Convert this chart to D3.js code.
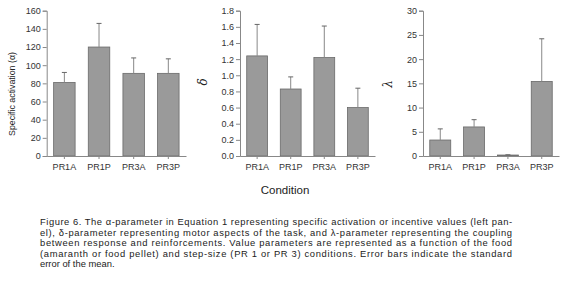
<!DOCTYPE html>
<html>
<head>
<meta charset="utf-8">
<script src="https://cdn.jsdelivr.net/npm/d3@7"></script>
<style>
  body { margin: 0; background: #fff; }
  svg { display: block; }
  .axis path, .axis line { stroke: #888; }
  .axis text { fill: #333; font-family: "Liberation Sans", Arial, sans-serif; font-size: 9px; }
</style>
</head>
<body>
<svg id="chart" width="567" height="290"></svg>
<script>
// conditions on the x axis
var conditions = ["PR1A", "PR1P", "PR3A", "PR3P"];

// alpha parameter (specific activation)
var alphaMean = [81, 120, 91, 91];
var alphaErr = [92, 146, 108, 107];
var alphaTicks = [0, 20, 40, 60, 80, 100, 120, 140, 160];

// delta parameter
var deltaMean = [1.24, 0.83, 1.22, 0.60];
var deltaErr = [1.63, 0.98, 1.61, 0.84];
var deltaTicks = [0, 0.2, 0.4, 0.6, 0.8, 1.0, 1.2, 1.4, 1.6, 1.8];

// lambda parameter
var lambdaMean = [3.3, 6.0, 0.2, 15.4];
var lambdaErr = [5.6, 7.5, 0.25, 24.2];
var lambdaTicks = [0, 5, 10, 15, 20, 25, 30];

var captionLines = [
    "Figure 6. The \u03b1-parameter in Equation 1 representing specific activation or incentive values (left pan-",
    "el), \u03b4-parameter representing motor aspects of the task, and \u03bb-parameter representing the coupling",
    "between response and reinforcements. Value parameters are represented as a function of the food",
    "(amaranth or food pellet) and step-size (PR 1 or PR 3) conditions. Error bars indicate the standard",
    "error of the mean."
];

var svg = d3.select("#chart");
var yTop = 10.7, yBottom = 156;

var panels = [
    { mean: alphaMean, err: alphaErr, ticks: alphaTicks, max: 160, fmt: d3.format("d"),
      x0: 46.7, x1: 186, label: "Specific activation (\u03b1)", lx: 15, ly: 94, italic: false },
    { mean: deltaMean, err: deltaErr, ticks: deltaTicks, max: 1.8, fmt: d3.format(".1f"),
      x0: 240, x1: 375, label: "\u03b4", lx: 207, ly: 82, italic: true },
    { mean: lambdaMean, err: lambdaErr, ticks: lambdaTicks, max: 30, fmt: d3.format("d"),
      x0: 423, x1: 559, label: "\u03bb", lx: 392, ly: 84, italic: true }
];

panels.forEach(function (p) {
    var x = d3.scaleBand().domain(conditions).range([p.x0, p.x1])
        .paddingInner(0.38).paddingOuter(0.2);
    var y = d3.scaleLinear().domain([0, p.max]).range([yBottom, yTop]);

    var g = svg.append("g");

    // bars
    g.selectAll("rect.bar")
        .data(conditions)
        .enter()
        .append("rect")
        .attr("class", "bar")
        .attr("x", function (d) { return x(d); })
        .attr("width", x.bandwidth())
        .attr("y", function (d, i) { return y(p.mean[i]); })
        .attr("height", function (d, i) { return y(0) - y(p.mean[i]); })
        .attr("fill", "#9a9a9a")
        .attr("stroke", "#6a6a6a")
        .attr("stroke-width", 0.8);

    // error bars (upper only)
    var eb = g.selectAll("g.err")
        .data(conditions)
        .enter()
        .append("g")
        .attr("class", "err");
    eb.append("line")
        .attr("x1", function (d) { return x(d) + x.bandwidth() / 2; })
        .attr("x2", function (d) { return x(d) + x.bandwidth() / 2; })
        .attr("y1", function (d, i) { return y(p.mean[i]); })
        .attr("y2", function (d, i) { return y(p.err[i]); })
        .attr("stroke", "#888")
        .attr("stroke-width", 1);
    eb.append("line")
        .attr("x1", function (d) { return x(d) + x.bandwidth() / 2 - 2.5; })
        .attr("x2", function (d) { return x(d) + x.bandwidth() / 2 + 2.5; })
        .attr("y1", function (d, i) { return y(p.err[i]); })
        .attr("y2", function (d, i) { return y(p.err[i]); })
        .attr("stroke", "#666")
        .attr("stroke-width", 1);

    // axes
    g.append("g")
        .attr("class", "axis")
        .attr("transform", "translate(" + p.x0 + ",0)")
        .call(d3.axisLeft(y).tickValues(p.ticks).tickFormat(p.fmt).tickSize(4).tickPadding(2));

    g.append("g")
        .attr("class", "axis")
        .attr("transform", "translate(0," + yBottom + ")")
        .call(d3.axisBottom(x).tickSize(3).tickSizeOuter(0).tickPadding(5));

    // y label
    g.append("text")
        .attr("transform", "translate(" + p.lx + "," + p.ly + ") rotate(-90)")
        .attr("text-anchor", "middle")
        .attr("font-family", p.italic ? "'DejaVu Serif', serif" : "'Liberation Sans', Arial, sans-serif")
        .attr("font-style", p.italic ? "italic" : "normal")
        .attr("font-size", p.italic ? "12px" : "8.8px")
        .attr("fill", "#222")
        .text(p.label);
});

// shared x label
svg.append("text")
    .attr("x", 285)
    .attr("y", 194)
    .attr("text-anchor", "middle")
    .attr("font-family", "'Liberation Sans', Arial, sans-serif")
    .attr("font-size", "11.5px")
    .attr("fill", "#222")
    .text("Condition");

// caption
svg.selectAll("text.caption")
    .data(captionLines)
    .enter()
    .append("text")
    .attr("class", "caption")
    .attr("x", 40)
    .attr("y", function (d, i) { return 225 + i * 10.6; })
    .attr("font-family", "'Liberation Sans', Arial, sans-serif")
    .attr("font-size", "9.4px")
    .attr("fill", "#222")
    .attr("textLength", function (d, i) { return i < 4 ? 472 : null; })
    .attr("lengthAdjust", "spacing")
    .text(function (d) { return d; });
</script>
</body>
</html>
